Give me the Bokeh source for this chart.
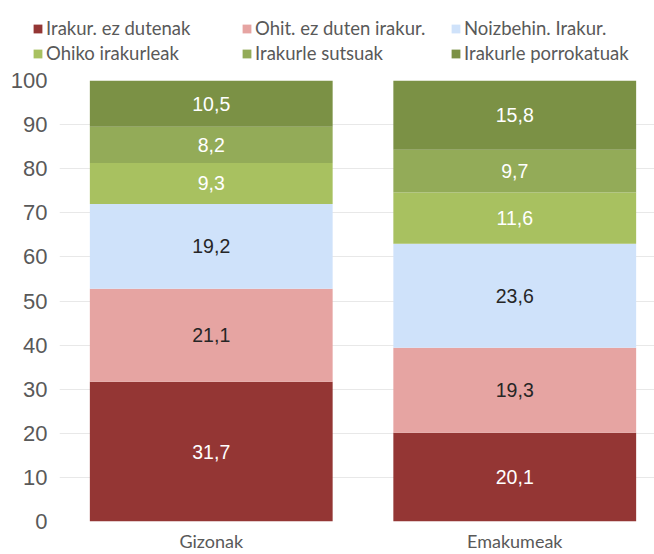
import numpy as np
from bokeh.plotting import figure
from bokeh.layouts import column, row
from bokeh.models import ColumnDataSource, Range1d, FixedTicker, Legend, LegendItem
from bokeh.embed import file_html
from bokeh.resources import INLINE
from bokeh.core.properties import value

categories = ["Gizonak", "Emakumeak"]
series_names = ["Irakur. ez dutenak", "Ohit. ez duten irakur.", "Noizbehin. Irakur.",
                "Ohiko irakurleak", "Irakurle sutsuak", "Irakurle porrokatuak"]
irakur_ez = [31.7, 20.1]
ohit_ez = [21.1, 19.3]
noizbehin = [19.2, 23.6]
ohiko = [9.3, 11.6]
sutsuak = [8.2, 9.7]
porrokatuak = [10.5, 15.8]
y_ticks = [0, 10, 20, 30, 40, 50, 60, 70, 80, 90, 100]

series_values = [irakur_ez, ohit_ez, noizbehin, ohiko, sutsuak, porrokatuak]
colors = ["#943634", "#E6A4A2", "#CFE2FA", "#A8C160", "#93AB58", "#7B9145"]
label_colors = ["#FFFFFF", "#262626", "#262626", "#FFFFFF", "#FFFFFF", "#FFFFFF"]

W = 654
LEG_H = 64
MAIN_H = 554 - LEG_H

xpos = [i + 0.5 for i in range(len(categories))]
keys = ["s%d" % i for i in range(len(series_names))]
data = {"x": xpos}
for k, v in zip(keys, series_values):
    data[k] = v
source = ColumnDataSource(data)

# ---------------- legend strip ----------------
# same stacked bars, drawn outside this strip's visible range; only the legend shows
pl = figure(width=W, height=LEG_H, output_backend="svg", toolbar_location=None,
            x_range=Range1d(10, 11), y_range=Range1d(200, 201),
            min_border=0, x_axis_type=None, y_axis_type=None)
pl.outline_line_color = None
pl.grid.visible = False
leg_renderers = pl.vbar_stack(keys, x="x", width=0.8, color=colors, line_color=None, source=source)
legend = Legend(items=[LegendItem(label=n, renderers=[r]) for n, r in zip(series_names, leg_renderers)],
                orientation="horizontal", ncols=3,
                location=(32, 0), padding=0, margin=0,
                glyph_width=11, glyph_height=11, label_standoff=3,
                label_width=192, label_height=20, spacing=3,
                label_text_font="Lato", label_text_font_size="18.5px", label_text_color="#595959",
                border_line_color=None, background_fill_alpha=0)
pl.add_layout(legend, "center")

# ---------------- main chart ----------------
B_LEFT, B_TOP, B_BOTTOM = 59, 16, 32
frame_w = W - B_LEFT
p = figure(width=W, height=MAIN_H, output_backend="svg", toolbar_location=None,
           x_range=Range1d(0, frame_w / 303.5), y_range=Range1d(0, 100),
           min_border_left=B_LEFT, min_border_right=0, min_border_top=B_TOP,
           min_border_bottom=B_BOTTOM)
p.outline_line_color = None

p.vbar_stack(keys, x="x", width=0.8, color=colors, line_color=None, source=source)

# value labels
lx, ly, lt, lc = [], [], [], []
bottoms = np.zeros(len(categories))
for vals, col in zip(series_values, label_colors):
    arr = np.array(vals)
    mids = bottoms + arr / 2
    for j in range(len(categories)):
        lx.append(xpos[j])
        ly.append(mids[j])
        lt.append(("%.1f" % arr[j]).replace(".", ","))
        lc.append(col)
    bottoms = bottoms + arr
lsrc = ColumnDataSource(dict(x=lx, y=ly, text=lt, color=lc))
p.text(x="x", y="y", text="text", text_color="color", source=lsrc,
       text_align="center", text_baseline="middle",
       text_font=value("Liberation Sans"), text_font_size=value("19.5px"))

# axes
p.xaxis.ticker = FixedTicker(ticks=xpos)
p.xaxis.major_label_overrides = {x: c for x, c in zip(xpos, categories)}
p.yaxis.ticker = FixedTicker(ticks=y_ticks)
for ax in (p.xaxis, p.yaxis):
    ax.axis_line_color = None
    ax.major_tick_line_color = None
    ax.minor_tick_line_color = None
    ax.major_tick_out = 0
    ax.major_tick_in = 0
    ax.minor_tick_out = 0
    ax.major_label_text_color = "#595959"
p.xaxis.major_label_text_font = "Lato"
p.xaxis.major_label_text_font_size = "18px"
p.xaxis.major_label_standoff = 8
p.yaxis.major_label_text_font = "Liberation Sans"
p.yaxis.major_label_text_font_size = "22px"
p.yaxis.major_label_standoff = 12
p.xgrid.grid_line_color = None
p.ygrid.grid_line_color = "#E8E8E8"
p.ygrid.grid_line_width = 1

layout = column(row(pl), p, spacing=0)
open("out.html", "w").write(file_html(layout, INLINE))
